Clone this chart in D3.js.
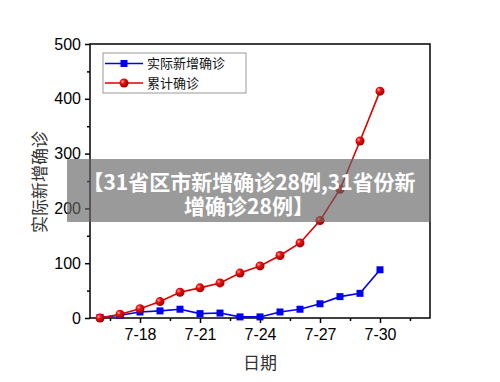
<!DOCTYPE html>
<html>
<head>
<meta charset="utf-8">
<script src="https://cdn.jsdelivr.net/npm/d3@7"></script>
<style>
  body { margin: 0; background: #fff; }
  svg { display: block; }
</style>
</head>
<body>
<div id="chart"></div>
<script>
// data
const days = [16, 17, 18, 19, 20, 21, 22, 23, 24, 25, 26, 27, 28, 29, 30];
const newCases = [1, 5, 11, 13, 16, 8, 9, 2, 2, 11, 16, 26, 39, 45, 88];
const totalCases = [0, 7, 17, 30, 47, 55, 64, 82, 95, 114, 137, 178, 235, 323, 414];
const xTickDays = [18, 21, 24, 27, 30];
const yTicks = [0, 100, 200, 300, 400, 500];
const seriesNames = ["实际新增确诊", "累计确诊"];
const bannerLines = ["【31省区市新增确诊28例,31省份新", "增确诊28例】"];

const W = 500, H = 382;
const margin = { top: 44, right: 70, bottom: 64, left: 90 };
const width = W - margin.left - margin.right;
const height = H - margin.top - margin.bottom;

const svg = d3.select("#chart").append("svg")
    .attr("width", W)
    .attr("height", H);

const defs = svg.append("defs");
const grad = defs.append("radialGradient")
    .attr("id", "ball")
    .attr("cx", "35%").attr("cy", "35%").attr("r", "65%");
grad.append("stop").attr("offset", "0%").attr("stop-color", "#ffb0b0");
grad.append("stop").attr("offset", "35%").attr("stop-color", "#f01010");
grad.append("stop").attr("offset", "100%").attr("stop-color", "#a00000");

const g = svg.append("g")
    .attr("transform", `translate(${margin.left},${margin.top})`);

const x = d3.scaleLinear().domain([15.5, 32.5]).range([0, width]);
const y = d3.scaleLinear().domain([0, 500]).range([height, 0]);

// frame
g.append("rect")
    .attr("width", width).attr("height", height)
    .attr("fill", "none").attr("stroke", "#000").attr("stroke-width", 1.5);

// x axis
const xAxis = g.append("g")
    .attr("transform", `translate(0,${height})`)
    .call(d3.axisBottom(x).tickValues(xTickDays).tickFormat(d => "7-" + d).tickSize(5).tickPadding(6));
xAxis.select(".domain").remove();
g.append("g")
    .attr("transform", `translate(0,${height})`)
    .call(d3.axisBottom(x).tickValues(d3.range(16.5, 32.5, 3)).tickFormat("").tickSize(3))
    .select(".domain").remove();

// y axis
const yAxis = g.append("g")
    .call(d3.axisLeft(y).tickValues(yTicks).tickSize(5).tickPadding(4));
yAxis.select(".domain").remove();
g.append("g")
    .call(d3.axisLeft(y).tickValues(d3.range(50, 500, 100)).tickFormat("").tickSize(3))
    .select(".domain").remove();

svg.selectAll(".tick line").attr("stroke", "#000").attr("stroke-width", 1.5);
svg.selectAll(".tick text")
    .style("font-family", "'Liberation Sans', Arial, sans-serif")
    .style("font-size", "16px")
    .attr("fill", "#000");

// axis titles
g.append("text")
    .attr("x", width / 2 - 0)
    .attr("y", height + 51)
    .attr("text-anchor", "middle")
    .style("font-family", "'Noto Sans CJK SC', sans-serif")
    .style("font-size", "17px")
    .attr("fill", "#333")
    .text("日期");

g.append("text")
    .attr("transform", "rotate(-90)")
    .attr("x", -138)
    .attr("y", -44)
    .attr("text-anchor", "middle")
    .style("font-family", "'Noto Sans CJK SC', sans-serif")
    .style("font-size", "17px")
    .attr("fill", "#333")
    .text(seriesNames[0]);

// lines
const line = d3.line()
    .x((d, i) => x(days[i]))
    .y(d => y(d));

g.append("path")
    .datum(newCases)
    .attr("d", line)
    .attr("fill", "none")
    .attr("stroke", "#0000ee")
    .attr("stroke-width", 1.6);

g.selectAll(".sq")
    .data(newCases)
    .enter().append("rect")
    .attr("class", "sq")
    .attr("x", (d, i) => x(days[i]) - 3.5)
    .attr("y", d => y(d) - 3.5)
    .attr("width", 7).attr("height", 7)
    .attr("fill", "#0000ee");

g.append("path")
    .datum(totalCases)
    .attr("d", line)
    .attr("fill", "none")
    .attr("stroke", "#dd0000")
    .attr("stroke-width", 1.6);

g.selectAll(".ball")
    .data(totalCases)
    .enter().append("circle")
    .attr("class", "ball")
    .attr("cx", (d, i) => x(days[i]))
    .attr("cy", d => y(d))
    .attr("r", 4.5)
    .attr("fill", "url(#ball)");

// legend
const legend = g.append("g").attr("transform", "translate(13,9)");
legend.append("rect")
    .attr("width", 143).attr("height", 40)
    .attr("fill", "#fff").attr("stroke", "#999").attr("stroke-width", 1);

const legendColors = ["#0000ee", "#dd0000"];
seriesNames.forEach((name, i) => {
    const ly = 10.5 + i * 19.5;
    legend.append("line")
        .attr("x1", 2).attr("x2", 40).attr("y1", ly).attr("y2", ly)
        .attr("stroke", legendColors[i]).attr("stroke-width", 1.6);
    if (i === 0) {
        legend.append("rect")
            .attr("x", 17.5).attr("y", ly - 3.5).attr("width", 7).attr("height", 7)
            .attr("fill", legendColors[i]);
    } else {
        legend.append("circle")
            .attr("cx", 21).attr("cy", ly).attr("r", 4.5).attr("fill", "url(#ball)");
    }
    legend.append("text")
        .attr("x", 44).attr("y", ly + 4.5)
        .style("font-family", "'Noto Sans CJK SC', sans-serif")
        .style("font-size", "13px")
        .attr("fill", "#111")
        .text(name);
});

// banner overlay
svg.append("rect")
    .attr("x", 67).attr("y", 159)
    .attr("width", 364).attr("height", 63)
    .attr("fill", "rgba(100,100,100,0.65)");

bannerLines.forEach((t, i) => {
    svg.append("text")
        .attr("x", 249)
        .attr("y", 190 + i * 24)
        .attr("text-anchor", "middle")
        .style("font-family", "'Noto Sans CJK SC', sans-serif")
        .style("font-size", "21px")
        .style("font-weight", "bold")
        .attr("fill", "#fff")
        .text(t);
});
</script>
</body>
</html>
